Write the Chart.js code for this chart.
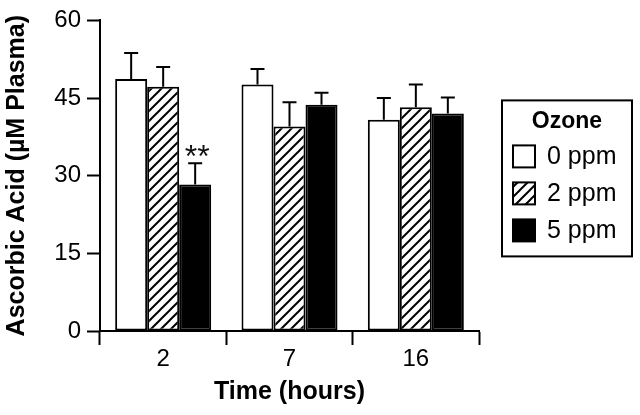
<!DOCTYPE html>
<html>
<head>
<meta charset="utf-8">
<script src="https://cdn.jsdelivr.net/npm/chart.js@4.4.1/dist/chart.umd.min.js"></script>
<style>
  html, body { margin: 0; padding: 0; background: #fff; }
  .container_chart { width: 640px; height: 415px; position: relative; }
</style>
</head>
<body>
<div class="container_chart"><canvas id="ozone_chart"></canvas></div>
<script>
const hours = ['2', '7', '16'];
const doseLabels = ['0 ppm', '2 ppm', '5 ppm'];
const ppm0 = [48.7, 47.6, 40.8];
const ppm2 = [47.2, 39.5, 43.2];
const ppm5 = [28.3, 43.7, 42.0];
const ppm0Err = [5.0, 3.0, 4.2];
const ppm2Err = [3.8, 4.7, 4.4];
const ppm5Err = [4.1, 2.3, 3.1];
const ppm5Marks = ['**', '', ''];
const yTicks = [0, 15, 30, 45, 60];

const FONT = '"Liberation Sans", Arial, Helvetica, sans-serif';
Chart.defaults.color = '#000';
Chart.defaults.font.family = FONT;

function makeHatch(){
	const c = document.createElement('canvas');
	c.width = 10; c.height = 10;
	const g = c.getContext('2d');
	g.fillStyle = '#fff';
	g.fillRect(0, 0, 10, 10);
	g.strokeStyle = '#000';
	g.lineWidth = 2;
	g.beginPath();
	g.moveTo(-2, 12); g.lineTo(12, -2);
	g.moveTo(-7, 7); g.lineTo(7, -7);
	g.moveTo(3, 17); g.lineTo(17, 3);
	g.stroke();
	return g.createPattern(c, 'repeat');
}
const hatch = makeHatch();

// error bars (upper only) plus significance marks
const errorBars = {
	id: 'errorBars',
	afterDatasetsDraw(chart){
		const ctx = chart.ctx;
		const y = chart.scales.y;
		ctx.save();
		ctx.strokeStyle = '#000';
		ctx.lineWidth = 2;
		chart.data.datasets.forEach((ds, di) => {
			chart.getDatasetMeta(di).data.forEach((bar, i) => {
				const top = y.getPixelForValue(ds.data[i] + ds.errors[i]);
				ctx.beginPath();
				ctx.moveTo(bar.x, bar.y);
				ctx.lineTo(bar.x, top);
				ctx.moveTo(bar.x - 7, top);
				ctx.lineTo(bar.x + 7, top);
				ctx.stroke();
				if(ds.marks && ds.marks[i]){
					ctx.fillStyle = '#111';
					ctx.font = '32px ' + FONT;
					ctx.textAlign = 'center';
					ctx.textBaseline = 'alphabetic';
					ctx.fillText(ds.marks[i], bar.x + 2, top + 4);
				}
			});
		});
		ctx.restore();
	}
};

// boxed legend with title, drawn to the right of the plot
const boxLegend = {
	id: 'boxLegend',
	afterDraw(chart){
		const ctx = chart.ctx;
		const area = chart.chartArea;
		const left = area.right + 23;
		const top = area.top + 80;
		const w = 130, h = 156;
		ctx.save();
		ctx.strokeStyle = '#000';
		ctx.lineWidth = 2;
		ctx.strokeRect(left, top, w, h);
		ctx.fillStyle = '#000';
		ctx.textBaseline = 'middle';
		ctx.textAlign = 'center';
		ctx.font = 'bold 23px ' + FONT;
		ctx.fillText('Ozone', left + w / 2, top + 21);
		ctx.textAlign = 'left';
		ctx.font = '25px ' + FONT;
		chart.data.datasets.forEach((ds, i) => {
			const cy = top + 56 + i * 37;
			ctx.fillStyle = ds.backgroundColor;
			ctx.fillRect(left + 11, cy - 11, 22, 22);
			ctx.strokeRect(left + 11, cy - 11, 22, 22);
			ctx.fillStyle = '#000';
			ctx.fillText(ds.label, left + 45, cy + 1);
		});
		ctx.restore();
	}
};

const chartData = {
	type: 'bar',
	data: {
		labels: hours,
		datasets: [
			{ label: doseLabels[0], data: ppm0, errors: ppm0Err, backgroundColor: '#fff' },
			{ label: doseLabels[1], data: ppm2, errors: ppm2Err, backgroundColor: hatch },
			{ label: doseLabels[2], data: ppm5, errors: ppm5Err, marks: ppm5Marks, backgroundColor: '#000' }
		]
	},
	options: {
		responsive: true,
		maintainAspectRatio: false,
		animation: false,
		layout: { padding: { top: 16, right: 161, bottom: 0, left: 0 } },
		datasets: {
			bar: {
				borderColor: '#000',
				borderWidth: 2,
				borderSkipped: false,
				categoryPercentage: 0.76,
				barPercentage: 1.0
			}
		},
		scales: {
			x: {
				afterFit: (scale) => { scale.height = 84; },
				grid: {
					offset: true,
					drawOnChartArea: false,
					drawTicks: true,
					tickLength: 14,
					tickWidth: 2,
					tickColor: '#000'
				},
				border: { display: true, color: '#000', width: 2 },
				ticks: { font: { size: 24 }, padding: 0, color: '#000' },
				title: {
					display: true,
					text: 'Time (hours)',
					font: { size: 25, weight: 'bold' },
					padding: { top: 0, bottom: 8 }
				}
			},
			y: {
				min: 0,
				max: 60,
				afterFit: (scale) => { scale.width = 100; },
				afterBuildTicks: (scale) => { scale.ticks = yTicks.map(v => ({ value: v })); },
				grid: {
					drawOnChartArea: false,
					drawTicks: true,
					tickLength: 13,
					tickWidth: 2,
					tickColor: '#000'
				},
				border: { display: true, color: '#000', width: 2 },
				ticks: { font: { size: 24 }, padding: 6, color: '#000' },
				title: {
					display: true,
					text: 'Ascorbic Acid (µM Plasma)',
					font: { size: 25, weight: 'bold' },
					padding: { top: 2, bottom: 0 }
				}
			}
		},
		plugins: {
			legend: { display: false },
			tooltip: { enabled: false }
		}
	},
	plugins: [errorBars, boxLegend]
};

new Chart(document.getElementById('ozone_chart'), chartData);
</script>
</body>
</html>
